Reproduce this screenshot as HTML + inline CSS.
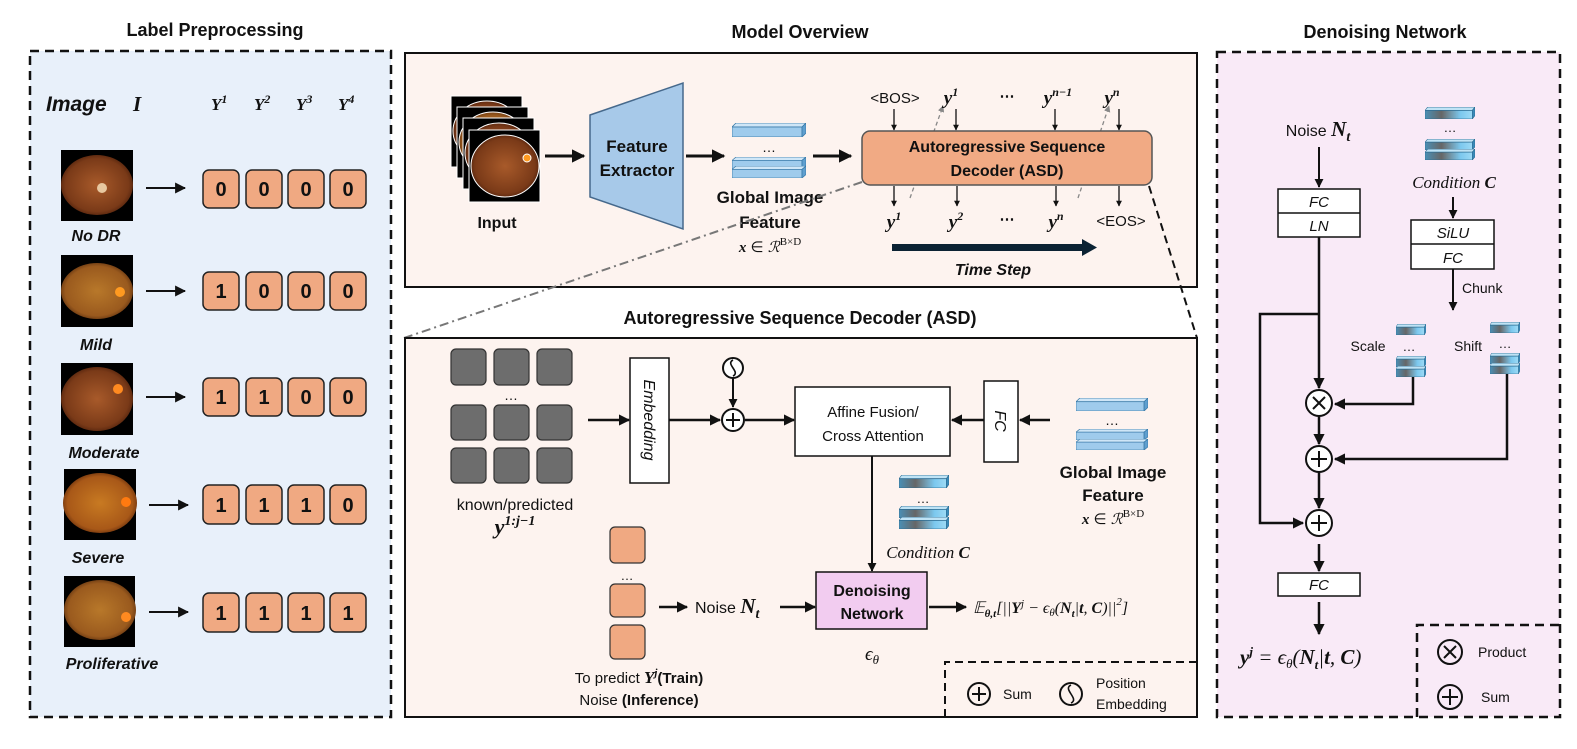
<!DOCTYPE html>
<html><head><meta charset="utf-8"><style>
html,body{margin:0;padding:0;background:#fff}
svg{display:block}
text{font-family:"Liberation Sans",sans-serif;fill:#111}
.m{font-family:"Liberation Serif",serif;font-style:italic}
.b{font-weight:bold}
.i{font-style:italic}
</style></head><body>
<svg width="1577" height="749" viewBox="0 0 1577 749" xmlns="http://www.w3.org/2000/svg">
<defs>
<marker id="ah" viewBox="0 0 10 10" refX="9" refY="5" markerWidth="4.5" markerHeight="4.5" orient="auto"><path d="M0,0L10,5L0,10z" fill="#111"/></marker>
<marker id="ah2" viewBox="0 0 10 10" refX="9" refY="5" markerWidth="5.5" markerHeight="5.5" orient="auto"><path d="M0,0L10,5L0,10z" fill="#111"/></marker>
<marker id="ahg" viewBox="0 0 10 10" refX="9" refY="5" markerWidth="5" markerHeight="5" orient="auto"><path d="M0,0L10,5L0,10z" fill="#888"/></marker>
<linearGradient id="gg" x1="0" x2="1" y1="0" y2="0"><stop offset="0" stop-color="#4a8fb5"/><stop offset="0.35" stop-color="#666"/><stop offset="0.75" stop-color="#7cc8ee"/><stop offset="1" stop-color="#9ddaf5"/></linearGradient>
<radialGradient id="f1" cx="0.5" cy="0.5" r="0.55"><stop offset="0" stop-color="#a85a2a"/><stop offset="0.8" stop-color="#7a3a18"/><stop offset="1" stop-color="#4a1e0a"/></radialGradient>
<radialGradient id="f2" cx="0.5" cy="0.5" r="0.55"><stop offset="0" stop-color="#b8782a"/><stop offset="0.8" stop-color="#9a5a1e"/><stop offset="1" stop-color="#5a2e0e"/></radialGradient>
<radialGradient id="f3" cx="0.5" cy="0.5" r="0.55"><stop offset="0" stop-color="#c87a22"/><stop offset="0.8" stop-color="#a85818"/><stop offset="1" stop-color="#602a0a"/></radialGradient>
<symbol id="blue" viewBox="0 0 74 14" preserveAspectRatio="none"><polygon points="0,4 4,0 74,0 70,4" fill="#cfe6f7" stroke="#3a7aa8" stroke-width="0.8"/><rect x="0" y="4" width="70" height="10" fill="#9fcbec" stroke="#3a7aa8" stroke-width="0.8"/><polygon points="70,4 74,0 74,10 70,14" fill="#5f9fcf" stroke="#3a7aa8" stroke-width="0.8"/></symbol>
<symbol id="grad" viewBox="0 0 74 14" preserveAspectRatio="none"><polygon points="0,4 4,0 74,0 70,4" fill="#bfe3f5" stroke="#2a6a90" stroke-width="0.8"/><rect x="0" y="4" width="70" height="10" fill="url(#gg)" stroke="#2a6a90" stroke-width="0.8"/><polygon points="70,4 74,0 74,10 70,14" fill="#3a8ab8" stroke="#2a6a90" stroke-width="0.8"/></symbol>
</defs>

<text x="215" y="36" text-anchor="middle" class="b" font-size="18">Label Preprocessing</text>
<rect x="30" y="51" width="361" height="666" fill="#e8f0fa" stroke="#111" stroke-width="2.5" stroke-dasharray="9,6"/>
<text x="46" y="111" class="b i" font-size="21">Image</text>
<text x="133" y="111" class="m b" font-size="21">I</text>
<text x="211" y="110" class="m b" font-size="17">Y<tspan dy="-7" font-size="12">1</tspan></text>
<text x="254" y="110" class="m b" font-size="17">Y<tspan dy="-7" font-size="12">2</tspan></text>
<text x="296" y="110" class="m b" font-size="17">Y<tspan dy="-7" font-size="12">3</tspan></text>
<text x="338" y="110" class="m b" font-size="17">Y<tspan dy="-7" font-size="12">4</tspan></text>

<g>
<rect x="61" y="150" width="72" height="71" fill="#000"/><ellipse cx="97" cy="185" rx="36" ry="30" fill="url(#f1)"/><circle cx="102" cy="188" r="5" fill="#e8c8a0"/>
<rect x="61" y="255" width="72" height="72" fill="#000"/><ellipse cx="97" cy="291" rx="36" ry="28" fill="url(#f2)"/><circle cx="120" cy="292" r="5" fill="#ff9a20"/>
<rect x="61" y="363" width="72" height="72" fill="#000"/><ellipse cx="97" cy="399" rx="36" ry="32" fill="url(#f1)"/><circle cx="118" cy="389" r="5" fill="#ff8a20"/>
<rect x="64" y="469" width="72" height="71" fill="#000"/><ellipse cx="100" cy="503" rx="37" ry="30" fill="url(#f3)"/><circle cx="126" cy="502" r="5" fill="#ff7a10"/>
<rect x="64" y="576" width="71" height="71" fill="#000"/><ellipse cx="100" cy="610" rx="36" ry="30" fill="url(#f2)"/><circle cx="126" cy="617" r="5" fill="#ff8a20"/>
</g>
<g class="b i" font-size="16">
<text x="96" y="241" text-anchor="middle">No DR</text>
<text x="96" y="350" text-anchor="middle">Mild</text>
<text x="104" y="458" text-anchor="middle">Moderate</text>
<text x="98" y="563" text-anchor="middle">Severe</text>
<text x="112" y="669" text-anchor="middle">Proliferative</text>
</g>
<g stroke="#111" stroke-width="2" marker-end="url(#ah2)">
<line x1="146" y1="188" x2="185" y2="188"/><line x1="146" y1="291" x2="185" y2="291"/><line x1="146" y1="397" x2="185" y2="397"/><line x1="149" y1="505" x2="188" y2="505"/><line x1="149" y1="612" x2="188" y2="612"/>
</g>
<g fill="#f0a982" stroke="#222" stroke-width="1.5">
<rect x="203" y="170" width="36" height="38" rx="6"/><rect x="246" y="170" width="36" height="38" rx="6"/><rect x="288" y="170" width="36" height="38" rx="6"/><rect x="330" y="170" width="36" height="38" rx="6"/>
<rect x="203" y="272" width="36" height="38" rx="6"/><rect x="246" y="272" width="36" height="38" rx="6"/><rect x="288" y="272" width="36" height="38" rx="6"/><rect x="330" y="272" width="36" height="38" rx="6"/>
<rect x="203" y="378" width="36" height="38" rx="6"/><rect x="246" y="378" width="36" height="38" rx="6"/><rect x="288" y="378" width="36" height="38" rx="6"/><rect x="330" y="378" width="36" height="38" rx="6"/>
<rect x="203" y="485" width="36" height="39" rx="6"/><rect x="246" y="485" width="36" height="39" rx="6"/><rect x="288" y="485" width="36" height="39" rx="6"/><rect x="330" y="485" width="36" height="39" rx="6"/>
<rect x="203" y="593" width="36" height="39" rx="6"/><rect x="246" y="593" width="36" height="39" rx="6"/><rect x="288" y="593" width="36" height="39" rx="6"/><rect x="330" y="593" width="36" height="39" rx="6"/>
</g>
<g class="b" font-size="20" text-anchor="middle">
<text x="221" y="196">0</text><text x="264" y="196">0</text><text x="306" y="196">0</text><text x="348" y="196">0</text>
<text x="221" y="298">1</text><text x="264" y="298">0</text><text x="306" y="298">0</text><text x="348" y="298">0</text>
<text x="221" y="404">1</text><text x="264" y="404">1</text><text x="306" y="404">0</text><text x="348" y="404">0</text>
<text x="221" y="512">1</text><text x="264" y="512">1</text><text x="306" y="512">1</text><text x="348" y="512">0</text>
<text x="221" y="620">1</text><text x="264" y="620">1</text><text x="306" y="620">1</text><text x="348" y="620">1</text>
</g>

<text x="800" y="38" text-anchor="middle" class="b" font-size="18">Model Overview</text>
<rect x="405" y="53" width="792" height="234" fill="#fdf3ef" stroke="#111" stroke-width="2"/>
<g stroke="#fff" stroke-width="1">
<rect x="451" y="96" width="71" height="71" fill="#000"/><ellipse cx="487" cy="131" rx="34" ry="30" fill="url(#f1)"/>
<rect x="457" y="107" width="71" height="71" fill="#000"/><ellipse cx="493" cy="142" rx="34" ry="30" fill="url(#f2)"/>
<rect x="463" y="118" width="71" height="71" fill="#000"/><ellipse cx="499" cy="153" rx="34" ry="30" fill="url(#f1)"/>
<rect x="469" y="130" width="71" height="72" fill="#000"/><ellipse cx="505" cy="166" rx="34" ry="31" fill="url(#f1)"/><circle cx="527" cy="158" r="4" fill="#ff9a20"/>
</g>
<text x="497" y="228" text-anchor="middle" class="b" font-size="16">Input</text>
<line x1="545" y1="156" x2="584" y2="156" stroke="#111" stroke-width="3" marker-end="url(#ah)"/>
<polygon points="590,115 683,83 683,229 590,197" fill="#a7c9e9" stroke="#46698c" stroke-width="1.5"/>
<text x="637" y="152" text-anchor="middle" class="b" font-size="17">Feature</text>
<text x="637" y="176" text-anchor="middle" class="b" font-size="17">Extractor</text>
<line x1="686" y1="156" x2="724" y2="156" stroke="#111" stroke-width="3" marker-end="url(#ah)"/>
<use href="#blue" x="732" y="123" width="74" height="14"/>
<text x="769" y="152" text-anchor="middle" font-size="14">…</text>
<use href="#blue" x="732" y="157" width="74" height="12"/>
<use href="#blue" x="732" y="166" width="74" height="12"/>
<line x1="813" y1="156" x2="851" y2="156" stroke="#111" stroke-width="3" marker-end="url(#ah)"/>
<text x="770" y="203" text-anchor="middle" class="b" font-size="17">Global Image</text>
<text x="770" y="228" text-anchor="middle" class="b" font-size="17">Feature</text>
<text x="770" y="252" text-anchor="middle" font-size="15"><tspan class="m b">x</tspan> ∈ <tspan class="m">ℛ</tspan><tspan dy="-7" font-size="11" font-family="Liberation Serif">B×D</tspan></text>
<line x1="910" y1="198" x2="943" y2="106" stroke="#888" stroke-width="1.3" stroke-dasharray="4,3" marker-end="url(#ahg)"/>
<line x1="1078" y1="198" x2="1109" y2="106" stroke="#888" stroke-width="1.3" stroke-dasharray="4,3" marker-end="url(#ahg)"/>
<rect x="862" y="131" width="290" height="54" rx="8" fill="#f1aa84" stroke="#555" stroke-width="1.5"/>
<text x="1007" y="152" text-anchor="middle" class="b" font-size="16">Autoregressive Sequence</text>
<text x="1007" y="176" text-anchor="middle" class="b" font-size="16">Decoder (ASD)</text>
<g font-size="15">
<text x="895" y="103" text-anchor="middle">&lt;BOS&gt;</text>
<text x="951" y="104" text-anchor="middle" class="m b" font-size="19">y<tspan dy="-8" font-size="12">1</tspan></text>
<text x="1007" y="101" text-anchor="middle" class="b">⋯</text>
<text x="1058" y="104" text-anchor="middle" class="m b" font-size="19">y<tspan dy="-8" font-size="12">n−1</tspan></text>
<text x="1112" y="104" text-anchor="middle" class="m b" font-size="19">y<tspan dy="-8" font-size="12">n</tspan></text>
<text x="894" y="228" text-anchor="middle" class="m b" font-size="19">y<tspan dy="-8" font-size="12">1</tspan></text>
<text x="956" y="228" text-anchor="middle" class="m b" font-size="19">y<tspan dy="-8" font-size="12">2</tspan></text>
<text x="1007" y="224" text-anchor="middle" class="b">⋯</text>
<text x="1056" y="228" text-anchor="middle" class="m b" font-size="19">y<tspan dy="-8" font-size="12">n</tspan></text>
<text x="1121" y="226" text-anchor="middle">&lt;EOS&gt;</text>
</g>
<g stroke="#111" stroke-width="1.3" marker-end="url(#ah)">
<line x1="894" y1="109" x2="894" y2="130"/><line x1="956" y1="109" x2="956" y2="130"/><line x1="1055" y1="109" x2="1055" y2="130"/><line x1="1119" y1="109" x2="1119" y2="130"/>
<line x1="894" y1="186" x2="894" y2="206"/><line x1="957" y1="186" x2="957" y2="206"/><line x1="1056" y1="186" x2="1056" y2="206"/><line x1="1119" y1="186" x2="1119" y2="206"/>
</g>
<rect x="892" y="244" width="190" height="7" fill="#0b2233"/>
<polygon points="1082,239 1097,247.5 1082,256" fill="#0b2233"/>
<text x="993" y="275" text-anchor="middle" class="b i" font-size="16">Time Step</text>
<line x1="862" y1="182" x2="404" y2="338" stroke="#777" stroke-width="2" stroke-dasharray="9,4,2,4"/>
<line x1="1149" y1="186" x2="1197" y2="338" stroke="#111" stroke-width="2" stroke-dasharray="8,5"/>

<text x="800" y="324" text-anchor="middle" class="b" font-size="18">Autoregressive Sequence Decoder (ASD)</text>
<rect x="405" y="338" width="792" height="379" fill="#fdf3ef" stroke="#111" stroke-width="2"/>
<g fill="#6d6d6d" stroke="#333" stroke-width="1.2">
<rect x="451" y="349" width="35" height="36" rx="5"/><rect x="494" y="349" width="35" height="36" rx="5"/><rect x="537" y="349" width="35" height="36" rx="5"/>
<rect x="451" y="405" width="35" height="35" rx="5"/><rect x="494" y="405" width="35" height="35" rx="5"/><rect x="537" y="405" width="35" height="35" rx="5"/>
<rect x="451" y="448" width="35" height="35" rx="5"/><rect x="494" y="448" width="35" height="35" rx="5"/><rect x="537" y="448" width="35" height="35" rx="5"/>
</g>
<text x="511" y="400" text-anchor="middle" font-size="14">…</text>
<text x="515" y="510" text-anchor="middle" font-size="16">known/predicted</text>
<text x="515" y="534" text-anchor="middle" class="m b" font-size="22">y<tspan dy="-9" font-size="14">1:j−1</tspan></text>
<line x1="588" y1="420" x2="629" y2="420" stroke="#111" stroke-width="2.5" marker-end="url(#ah)"/>
<rect x="630" y="358" width="39" height="125" fill="#fff" stroke="#111" stroke-width="1.5"/>
<text transform="translate(644,420) rotate(90)" text-anchor="middle" class="i" font-size="16">Embedding</text>
<line x1="669" y1="420" x2="720" y2="420" stroke="#111" stroke-width="2.5" marker-end="url(#ah)"/>
<circle cx="733" cy="420" r="11" fill="#fff" stroke="#111" stroke-width="2"/>
<path d="M733,413v14M726,420h14" stroke="#111" stroke-width="2"/>
<circle cx="733" cy="368" r="10" fill="#fff" stroke="#111" stroke-width="2"/>
<path d="M733,360c-8,4 8,12 0,16" fill="none" stroke="#111" stroke-width="1.6"/>
<line x1="733" y1="378" x2="733" y2="407" stroke="#111" stroke-width="2" marker-end="url(#ah)"/>
<line x1="745" y1="420" x2="794" y2="420" stroke="#111" stroke-width="2.5" marker-end="url(#ah)"/>
<rect x="795" y="387" width="155" height="69" fill="#fff" stroke="#111" stroke-width="1.5"/>
<text x="873" y="417" text-anchor="middle" font-size="15">Affine Fusion/</text>
<text x="873" y="441" text-anchor="middle" font-size="15">Cross Attention</text>
<rect x="984" y="381" width="34" height="81" fill="#fff" stroke="#111" stroke-width="1.5"/>
<text transform="translate(995,421) rotate(90)" text-anchor="middle" class="i" font-size="16">FC</text>
<line x1="984" y1="420" x2="952" y2="420" stroke="#111" stroke-width="2.5" marker-end="url(#ah)"/>
<line x1="1050" y1="420" x2="1020" y2="420" stroke="#111" stroke-width="2.5" marker-end="url(#ah)"/>
<use href="#blue" x="1076" y="398" width="72" height="13"/>
<text x="1112" y="425" text-anchor="middle" font-size="14">…</text>
<use href="#blue" x="1076" y="429" width="72" height="11"/>
<use href="#blue" x="1076" y="439" width="72" height="11"/>
<text x="1113" y="478" text-anchor="middle" class="b" font-size="17">Global Image</text>
<text x="1113" y="501" text-anchor="middle" class="b" font-size="17">Feature</text>
<text x="1113" y="524" text-anchor="middle" font-size="15"><tspan class="m b">x</tspan> ∈ <tspan class="m">ℛ</tspan><tspan dy="-7" font-size="11" font-family="Liberation Serif">B×D</tspan></text>
<line x1="872" y1="456" x2="872" y2="571" stroke="#111" stroke-width="2" marker-end="url(#ah)"/>
<use href="#grad" x="899" y="475" width="50" height="13"/>
<text x="923" y="503" text-anchor="middle" font-size="13">…</text>
<use href="#grad" x="899" y="506" width="50" height="12"/>
<use href="#grad" x="899" y="517" width="50" height="12"/>
<text x="928" y="558" text-anchor="middle" class="m" font-size="17">Condition <tspan class="b">C</tspan></text>
<rect x="816" y="572" width="111" height="57" fill="#f2ccf0" stroke="#111" stroke-width="1.5"/>
<text x="872" y="596" text-anchor="middle" class="b" font-size="16">Denoising</text>
<text x="872" y="619" text-anchor="middle" class="b" font-size="16">Network</text>
<text x="872" y="660" text-anchor="middle" class="m" font-size="19">ϵ<tspan dy="4" font-size="13">θ</tspan></text>
<g fill="#f0a982" stroke="#333" stroke-width="1.2">
<rect x="610" y="527" width="35" height="36" rx="5"/><rect x="610" y="584" width="35" height="33" rx="5"/><rect x="610" y="625" width="35" height="34" rx="5"/>
</g>
<text x="627" y="580" text-anchor="middle" font-size="13">…</text>
<line x1="659" y1="607" x2="687" y2="607" stroke="#111" stroke-width="2.5" marker-end="url(#ah)"/>
<text x="695" y="613" font-size="16">Noise <tspan class="m b" font-size="21">N</tspan><tspan class="m b" font-size="14" dy="5">t</tspan></text>
<line x1="780" y1="607" x2="815" y2="607" stroke="#111" stroke-width="2.5" marker-end="url(#ah)"/>
<line x1="929" y1="607" x2="966" y2="607" stroke="#111" stroke-width="2.5" marker-end="url(#ah)"/>
<text x="973" y="613" class="m" font-size="16">𝔼<tspan dy="4" font-size="11" font-weight="bold">θ,t</tspan><tspan dy="-4">[||</tspan><tspan class="b">Y</tspan><tspan dy="-6" font-size="11">j</tspan><tspan dy="6"> − ϵ</tspan><tspan dy="3" font-size="11">θ</tspan><tspan dy="-3">(</tspan><tspan class="b">N</tspan><tspan dy="4" font-size="11" class="b">t</tspan><tspan dy="-4">|</tspan><tspan class="b">t</tspan>, <tspan class="b">C</tspan>)||<tspan dy="-8" font-size="11">2</tspan><tspan dy="8">]</tspan></text>
<text x="639" y="683" text-anchor="middle" font-size="15">To predict <tspan class="m b" font-size="17">Y</tspan><tspan class="m b" font-size="11" dy="-7">j</tspan><tspan dy="7" class="b">(Train)</tspan></text>
<text x="639" y="705" text-anchor="middle" font-size="15">Noise <tspan class="b">(Inference)</tspan></text>
<path d="M945,717V662H1197" fill="none" stroke="#111" stroke-width="2" stroke-dasharray="8,5"/>
<circle cx="979" cy="694" r="11" fill="none" stroke="#111" stroke-width="2"/>
<path d="M979,687v14M972,694h14" stroke="#111" stroke-width="2"/>
<text x="1003" y="699" font-size="14">Sum</text>
<circle cx="1071" cy="694" r="11" fill="none" stroke="#111" stroke-width="2"/>
<path d="M1071,685c-9,4 9,14 0,18" fill="none" stroke="#111" stroke-width="1.6"/>
<text x="1096" y="688" font-size="14">Position</text>
<text x="1096" y="709" font-size="14">Embedding</text>

<text x="1385" y="38" text-anchor="middle" class="b" font-size="18">Denoising Network</text>
<rect x="1217" y="52" width="343" height="665" fill="#f9eaf7" stroke="#111" stroke-width="2.5" stroke-dasharray="9,6"/>
<text x="1318" y="136" text-anchor="middle" font-size="16">Noise <tspan class="m b" font-size="21">N</tspan><tspan class="m b" font-size="14" dy="5">t</tspan></text>
<line x1="1319" y1="147" x2="1319" y2="187" stroke="#111" stroke-width="2" marker-end="url(#ah)"/>
<rect x="1278" y="189" width="82" height="48" fill="#fff" stroke="#111" stroke-width="1.5"/>
<line x1="1278" y1="213" x2="1360" y2="213" stroke="#111" stroke-width="1.5"/>
<text x="1319" y="207" text-anchor="middle" class="i" font-size="15">FC</text>
<text x="1319" y="231" text-anchor="middle" class="i" font-size="15">LN</text>
<line x1="1319" y1="237" x2="1319" y2="388" stroke="#111" stroke-width="2.5" marker-end="url(#ah)"/>
<path d="M1319,314H1260V523H1303" fill="none" stroke="#111" stroke-width="2.5" marker-end="url(#ah)"/>
<use href="#grad" x="1425" y="107" width="50" height="12"/>
<text x="1450" y="132" text-anchor="middle" font-size="13">…</text>
<use href="#grad" x="1425" y="139" width="50" height="11"/>
<use href="#grad" x="1425" y="149" width="50" height="11"/>
<text x="1454" y="188" text-anchor="middle" class="m" font-size="17">Condition <tspan class="b">C</tspan></text>
<line x1="1453" y1="197" x2="1453" y2="218" stroke="#111" stroke-width="2" marker-end="url(#ah)"/>
<rect x="1411" y="220" width="83" height="49" fill="#fff" stroke="#111" stroke-width="1.5"/>
<line x1="1411" y1="244" x2="1494" y2="244" stroke="#111" stroke-width="1.5"/>
<text x="1453" y="238" text-anchor="middle" class="i" font-size="15">SiLU</text>
<text x="1453" y="263" text-anchor="middle" class="i" font-size="15">FC</text>
<line x1="1453" y1="269" x2="1453" y2="310" stroke="#111" stroke-width="2" marker-end="url(#ah)"/>
<text x="1462" y="293" font-size="14">Chunk</text>
<use href="#grad" x="1396" y="324" width="30" height="11"/>
<text x="1409" y="351" text-anchor="middle" font-size="13">…</text>
<use href="#grad" x="1396" y="356" width="30" height="11"/>
<use href="#grad" x="1396" y="366" width="30" height="11"/>
<text x="1368" y="351" text-anchor="middle" font-size="14">Scale</text>
<use href="#grad" x="1490" y="322" width="30" height="11"/>
<text x="1505" y="348" text-anchor="middle" font-size="13">…</text>
<use href="#grad" x="1490" y="353" width="30" height="11"/>
<use href="#grad" x="1490" y="363" width="30" height="11"/>
<text x="1468" y="351" text-anchor="middle" font-size="14">Shift</text>
<path d="M1413,377V404H1335" fill="none" stroke="#111" stroke-width="2.5" marker-end="url(#ah)"/>
<path d="M1507,374V459H1335" fill="none" stroke="#111" stroke-width="2.5" marker-end="url(#ah)"/>
<circle cx="1319" cy="403" r="13" fill="#fff" stroke="#111" stroke-width="2"/>
<path d="M1313,397l12,12M1325,397l-12,12" stroke="#111" stroke-width="2"/>
<line x1="1319" y1="416" x2="1319" y2="444" stroke="#111" stroke-width="2.5" marker-end="url(#ah)"/>
<circle cx="1319" cy="459" r="13" fill="#fff" stroke="#111" stroke-width="2"/>
<path d="M1319,451v16M1311,459h16" stroke="#111" stroke-width="2"/>
<line x1="1319" y1="472" x2="1319" y2="508" stroke="#111" stroke-width="2.5" marker-end="url(#ah)"/>
<circle cx="1319" cy="523" r="13" fill="#fff" stroke="#111" stroke-width="2"/>
<path d="M1319,515v16M1311,523h16" stroke="#111" stroke-width="2"/>
<line x1="1319" y1="544" x2="1319" y2="571" stroke="#111" stroke-width="2.5" marker-end="url(#ah)"/>
<rect x="1278" y="573" width="82" height="23" fill="#fff" stroke="#111" stroke-width="1.5"/>
<text x="1319" y="590" text-anchor="middle" class="i" font-size="15">FC</text>
<line x1="1319" y1="602" x2="1319" y2="634" stroke="#111" stroke-width="2.5" marker-end="url(#ah)"/>
<text x="1240" y="664" class="m" font-size="21"><tspan class="b">y</tspan><tspan dy="-8" font-size="13" class="b">j</tspan><tspan dy="8"> = ϵ</tspan><tspan dy="4" font-size="13">θ</tspan><tspan dy="-4">(</tspan><tspan class="b">N</tspan><tspan dy="5" font-size="13" class="b">t</tspan><tspan dy="-5">|</tspan><tspan class="b">t</tspan>, <tspan class="b">C</tspan>)</text>
<path d="M1417,717V625H1560" fill="none" stroke="#111" stroke-width="2.5" stroke-dasharray="9,6"/>
<circle cx="1450" cy="652" r="12" fill="none" stroke="#111" stroke-width="2"/>
<path d="M1444,646l12,12M1456,646l-12,12" stroke="#111" stroke-width="2"/>
<text x="1478" y="657" font-size="14">Product</text>
<circle cx="1450" cy="697" r="12" fill="none" stroke="#111" stroke-width="2"/>
<path d="M1450,689v16M1442,697h16" stroke="#111" stroke-width="2"/>
<text x="1481" y="702" font-size="14">Sum</text>
</svg>
</body></html>
